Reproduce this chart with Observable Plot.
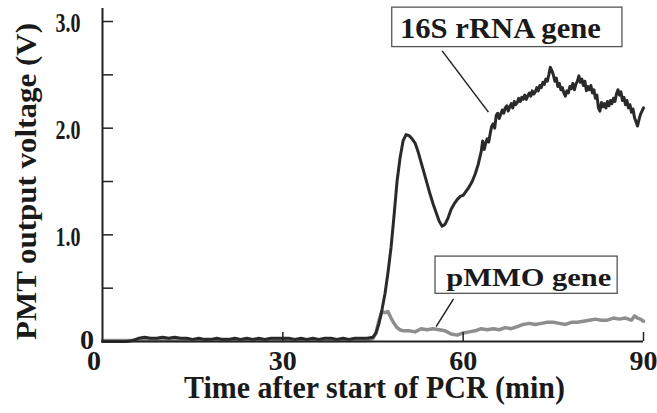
<!DOCTYPE html>
<html><head><meta charset="utf-8">
<script src="https://cdn.jsdelivr.net/npm/d3@7"></script>
<script src="https://cdn.jsdelivr.net/npm/@observablehq/plot@0.6"></script>
<style>body{margin:0;background:#fff} svg{display:block}</style>
</head><body><div id="chart"></div>
<script>
// ---- data ----
const time16S = [0,1,2,3,4,5,6,7,8,9,10,11,12,13,14,15,16,17,18,19,20,21,22,23,24,25,26,27,28,29,30,31,32,33,34,35,36,37,38,39,40,41,42,43,44,45,
  45.5,46,46.5,47,47.5,48,48.5,49,49.5,50,50.5,51,51.5,52,52.5,53,53.5,54,54.5,55,55.5,56,56.5,57,57.5,58,58.5,59,59.5,60,60.5,61,61.5,62,62.5,
  63,63.25,63.5,63.75, 64,64.25,64.5,64.75, 65,65.25,65.5,65.75, 66,66.25,66.5,66.75, 67,67.25,67.5,67.75,
  68,68.25,68.5,68.75, 69,69.25,69.5,69.75, 70,70.25,70.5,70.75, 71,71.25,71.5,71.75, 72,72.25,72.5,72.75,
  73,73.25,73.5,73.75, 74,74.25,74.5,74.75, 75,75.25,75.5,75.75, 76,76.25,76.5,76.75, 77,77.25,77.5,77.75,
  78,78.25,78.5,78.75, 79,79.25,79.5,79.75, 80,80.25,80.5,80.75, 81,81.25,81.5,81.75, 82,82.25,82.5,82.75,
  83,83.25,83.5,83.75, 84,84.25,84.5,84.75, 85,85.25,85.5,85.75, 86,86.25,86.5,86.75, 87,87.25,87.5,87.75,
  88,88.25,88.5,88.75, 89,89.25,89.5,89.75, 90];
const volt16S = [0,0,0,0,0,0.01,
  0.03,0.04,0.03,0.03,0.04,0.03,0.04,0.03,0.03,0.02,
  0.03,0.02,0.02,0.03,0.02,0.02,0.03,0.02,0.03,0.02,
  0.03,0.02,0.03,0.03,0.03,0.03,0.02,0.03,0.02,0.03,
  0.02,0.03,0.03,0.02,0.03,0.02,0.03,0.03,0.03,0.04,
  0.08,0.17,0.30,0.45,0.65,0.88,1.18,1.50,1.72,1.88,
  1.94,1.93,1.90,1.86,1.78,1.68,1.58,1.48,1.38,1.29,
  1.21,1.13,1.08,1.10,1.16,1.24,1.29,1.33,1.36,1.37,
  1.41,1.45,1.50,1.57,1.66,
  1.78,1.88,1.80,1.86, 1.90,1.87,1.95,2.02, 2.04,2.00,2.12,2.14, 2.09,2.13,2.17,2.14, 2.19,2.21,2.16,2.20,
  2.23,2.19,2.25,2.22, 2.24,2.28,2.25,2.29, 2.27,2.31,2.27,2.30, 2.33,2.30,2.35,2.32, 2.34,2.38,2.35,2.40,
  2.38,2.43,2.41,2.46, 2.44,2.50,2.57,2.54, 2.50,2.44,2.47,2.39, 2.42,2.36,2.38,2.33, 2.30,2.35,2.33,2.39,
  2.37,2.42,2.36,2.41, 2.44,2.49,2.43,2.46, 2.40,2.44,2.35,2.39, 2.36,2.40,2.33,2.36, 2.28,2.31,2.19,2.16,
  2.24,2.20,2.23,2.19, 2.25,2.21,2.26,2.23, 2.28,2.25,2.32,2.36, 2.31,2.34,2.26,2.29, 2.22,2.26,2.19,2.22,
  2.15,2.18,2.10,2.06, 2.02,2.08,2.13,2.16, 2.19];
const timePMMO = [0,5,10,15,20,25,30,35,40,44,45,
  45.5,46,46.5,47,47.5,48,48.5,49,49.5,50,
  51,52,53,54,55,56,57,58,59,60,61,62,63,64,65,66,67,68,69,70,71,72,73,74,75,76,77,78,79,80,81,82,83,84,85,86,87,88,
  88.5,89,89.5,90];
const voltPMMO = [0.01,0.01,0.01,0.01,0.01,0.01,0.01,0.01,0.01,0.01,0.03,
  0.08,0.20,0.28,0.27,0.28,0.22,0.17,0.13,0.11,0.10,
  0.10,0.09,0.12,0.11,0.12,0.11,0.10,0.07,0.06,0.08,
  0.09,0.10,0.12,0.11,0.12,0.11,0.13,0.12,0.14,0.16,
  0.17,0.16,0.17,0.18,0.18,0.17,0.16,0.18,0.18,0.19,
  0.20,0.21,0.20,0.20,0.22,0.21,0.22,0.20,
  0.24,0.22,0.21,0.19];
const xTickValues = [30, 60, 90];
const xTickLabels = ["30", "60", "90"];
const yTickValues = [0.5, 1, 1.5, 2, 2.5, 3];
const yLabelValues = [1, 2, 3];
const yTickLabels = ["1.0", "2.0", "3.0"];
const xTitle = "Time after start of PCR (min)";
const yTitle = "PMT output voltage (V)";
const label16S = "16S rRNA gene";
const labelPMMO = "pMMO gene";

// ---- tables built from the arrays ----
const rrna = time16S.map((t, i) => ({t, v: volt16S[i]}));
const pmmo = timePMMO.map((t, i) => ({t, v: voltPMMO[i]}));

// annotation placement (data units)
const box16S = {x1: 48.2, x2: 86.5, y1: 2.76, y2: 3.13, tx: 66.2, ty: 2.85, lx1: 56.5, ly1: 2.725, lx2: 64.2, ly2: 2.15};
const boxPMMO = {x1: 55.4, x2: 85.7, y1: 0.447, y2: 0.796, tx: 70.9, ty: 0.524, lx1: 58.4, ly1: 0.40, lx2: 55.5, ly2: 0.14};

const W = 657, H = 413, mL = 102, mR = 14, mT = 21, mB = 72;
const frameW = W - mL - mR, frameH = H - mT - mB;
const font = "'Liberation Serif', 'Times New Roman', serif";
const ink = "#1a1a1a";

const plot = Plot.plot({
  width: W, height: H,
  marginLeft: mL, marginRight: mR, marginTop: mT, marginBottom: mB,
  x: {domain: [0, 90], axis: null},
  y: {domain: [0, 3], axis: null},
  style: {fontFamily: font, background: "white", color: ink, overflow: "visible"},
  marks: [
    Plot.line(pmmo, {x: "t", y: "v", stroke: "#8e8e8e", strokeWidth: 3.5, strokeLinejoin: "round"}),
    Plot.line(rrna, {x: "t", y: "v", stroke: "#2a2a2a", strokeWidth: 3, strokeLinejoin: "round"}),
    Plot.ruleX([0], {stroke: "#222", strokeWidth: 2, insetTop: -13}),
    Plot.ruleY([0], {stroke: "#222", strokeWidth: 2.2}),
    Plot.tickY(yTickValues, {y: d => d, stroke: "#222", strokeWidth: 1.5, insetRight: frameW - 11}),
    Plot.tickX(xTickValues, {x: d => d, stroke: "#222", strokeWidth: 1.5, insetTop: frameH - 9}),
    // tick labels
    Plot.text(yLabelValues, {y: d => d, text: (d, i) => yTickLabels[i], frameAnchor: "left", dx: -22, dy: 2, textAnchor: "end", lineAnchor: "middle", fontSize: 28, fontWeight: "bold", fill: ink}),
    Plot.text([0], {y: d => d, text: () => "0", frameAnchor: "left", dx: -8.5, dy: -1, textAnchor: "end", lineAnchor: "middle", fontSize: 28, fontWeight: "bold", fill: ink}),
    Plot.text(xTickValues, {x: d => d, text: (d, i) => xTickLabels[i], frameAnchor: "bottom", dy: 20, textAnchor: "middle", lineAnchor: "middle", fontSize: 28, fontWeight: "bold", fill: ink}),
    Plot.text([0], {x: d => d, text: () => "0", frameAnchor: "bottom", dx: -8.5, dy: 20, textAnchor: "middle", lineAnchor: "middle", fontSize: 28, fontWeight: "bold", fill: ink}),
    // axis titles
    Plot.text([xTitle], {text: d => d, frameAnchor: "bottom", dx: 1.5, dy: 56, textAnchor: "middle", lineAnchor: "bottom", fontSize: 32, fontWeight: "bold", fill: ink}),
    Plot.text([yTitle], {text: d => d, frameAnchor: "left", dx: -67, textAnchor: "middle", rotate: -90, lineAnchor: "bottom", fontSize: 29.5, fontWeight: "bold", fill: ink}),
    // annotations
    Plot.rect([box16S, boxPMMO], {x1: "x1", x2: "x2", y1: "y1", y2: "y2", fill: "white", stroke: "#555", strokeWidth: 1.3}),
    Plot.link([box16S, boxPMMO], {x1: "lx1", y1: "ly1", x2: "lx2", y2: "ly2", stroke: "#222", strokeWidth: 1.5}),
    Plot.text([box16S], {x: "tx", y: "ty", text: () => label16S, textAnchor: "middle", lineAnchor: "bottom", fontSize: 29, fontWeight: "bold", fill: ink}),
    Plot.text([boxPMMO], {x: "tx", y: "ty", text: () => labelPMMO, textAnchor: "middle", lineAnchor: "bottom", fontSize: 25.5, fontWeight: "bold", fill: ink})
  ]
});

// fit text widths to the reference
const widths = {"1.0": 25, "2.0": 25, "3.0": 25};
widths[xTitle] = 381; widths[yTitle] = 317; widths[label16S] = 201; widths[labelPMMO] = 165;
d3.select(plot).selectAll("text").each(function() {
  const w = widths[this.textContent];
  if (w) { this.setAttribute("textLength", w); this.setAttribute("lengthAdjust", "spacingAndGlyphs"); }
});
document.getElementById("chart").appendChild(plot);
</script>
</body></html>
